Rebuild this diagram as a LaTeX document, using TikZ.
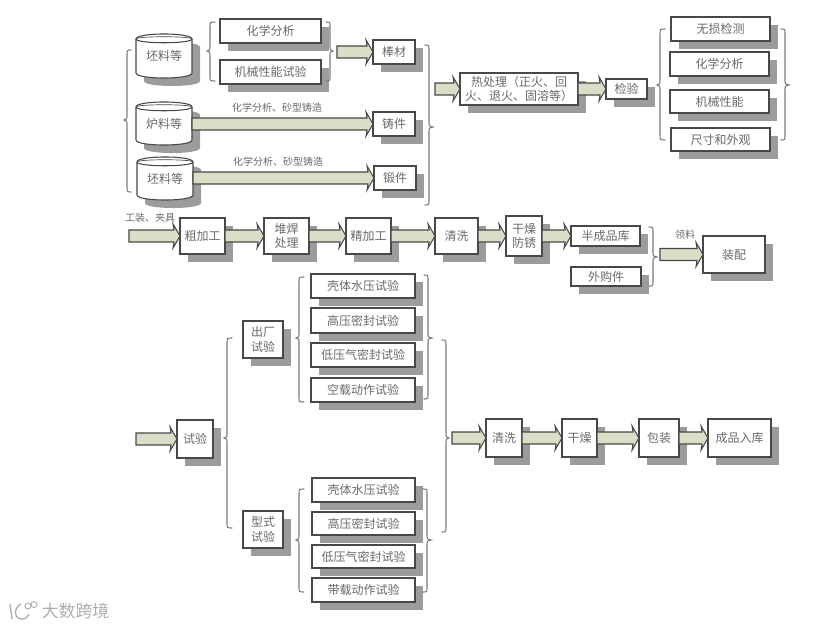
\documentclass[tikz,border=0pt]{standalone}
\usepackage{fontspec}
\usetikzlibrary{calc}
\newfontfamily\cjk{Noto Sans CJK SC}
\definecolor{shadowc}{HTML}{9C9C9C}
\definecolor{edgec}{HTML}{484848}
\definecolor{inkc}{HTML}{6A6A6A}
\definecolor{arrowc}{HTML}{D8DFC6}
\definecolor{bracec}{HTML}{7A7A7A}
\tikzset{
  boxnode/.style={draw=edgec,fill=white,line width=0.8pt,inner sep=0pt,outer sep=0pt,align=center,text=inkc,font=\cjk\fontsize{9}{11}\selectfont},
  tinylabel/.style={inner sep=0pt,text=inkc,font=\cjk\fontsize{7.5}{9}\selectfont},
  fatarrow/.style={draw=edgec,fill=arrowc,line width=0.8pt,line join=miter},
  bracepath/.style={draw=bracec,line width=0.8pt,line cap=round},
  cylpath/.style={draw=edgec,fill=white,line width=0.8pt},
  shadowfill/.style={fill=shadowc,draw=none}
}
\newcommand{\bx}[6]{%
  \fill[shadowfill] (#2+8,#3+8) rectangle (#4+8,#5+8);
  \pgfmathsetmacro{\wdv}{(#4-#2)*0.75}%
  \pgfmathsetmacro{\htv}{(#5-#3)*0.75}%
  \node[boxnode,minimum width=\wdv pt,minimum height=\htv pt] (#1) at ({(#2+#4)/2},{(#3+#5)/2}) {#6};
}
\newcommand{\cyl}[6]{%
  \fill[shadowfill] (#2+8,#3+13) .. controls (#2+8,#3+6.3) and (#4+8,#3+6.3) .. (#4+8,#3+13) -- (#4+8,#5+3) .. controls (#4+8,#5+9.7) and (#2+8,#5+9.7) .. (#2+8,#5+3) -- cycle;
  \path[cylpath] (#2,#3+5) .. controls (#2,#3-1.7) and (#4,#3-1.7) .. (#4,#3+5) -- (#4,#5-5) .. controls (#4,#5+1.7) and (#2,#5+1.7) .. (#2,#5-5) -- cycle;
  \draw[edgec,line width=0.8pt] (#2,#3+5) .. controls (#2,#3+10) and (#4,#3+10) .. (#4,#3+5);
  \draw[edgec,line width=0.5pt] (#2,#3+5) .. controls (#2,#3+2) and (#4,#3+2) .. (#4,#3+5);
  \pgfmathsetmacro{\wdv}{(#4-#2)*0.75}%
  \pgfmathsetmacro{\htv}{(#5-#3)*0.75}%
  \node[inner sep=0pt,outer sep=0pt,minimum width=\wdv pt,minimum height=\htv pt,text=inkc,font=\cjk\fontsize{9}{11}\selectfont] (#1) at ({(#2+#4)/2},{(#3+#5)/2}) {\raisebox{-5pt}{#6}};
}
\newcommand{\fatarr}[2]{%
  \path[fatarrow] let \p1=(#1), \p2=(#2) in
   (\x1,\y2+4.5pt) -- (\x2-4.5pt,\y2+4.5pt) -- (\x2-5.2pt,\y2+9pt) -- (\x2,\y2)
   -- (\x2-5.2pt,\y2-9pt) -- (\x2-4.5pt,\y2-4.5pt) -- (\x1,\y2-4.5pt) -- cycle;
}
% left brace: tip x, spine x, end x, y1, tip y, y2
\newcommand{\lbr}[6]{%
  \draw[bracepath] (#3,#4) .. controls (#2,#4) .. (#2,#4+5) -- (#2,#5-4) .. controls (#2,#5-1) .. (#1,#5) .. controls (#2,#5+1) .. (#2,#5+4) -- (#2,#6-5) .. controls (#2,#6) .. (#3,#6);
}
\begin{document}
\begin{tikzpicture}[x=0.75pt,y=-0.75pt]
\useasboundingbox[fill=white] (0,0) rectangle (831,627);

% --- top block
\cyl{c1}{136}{34}{192}{78}{坯料等}
\cyl{c2}{136}{102}{192}{145}{炉料等}
\cyl{c3}{137}{157}{193}{200}{坯料等}
\bx{hx1}{220}{19}{321}{43}{化学分析}
\bx{jx1}{220}{60}{321}{84}{机械性能试验}
\bx{bang}{373}{40}{415}{64}{棒材}
\bx{zhu}{373}{112}{415}{136}{铸件}
\bx{duan}{374}{166}{416}{190}{锻件}
\lbr{124}{127}{131}{50}{120}{192}
\lbr{207}{210}{215}{22}{51}{81}
\lbr{333}{330}{326}{22}{51}{81}
\lbr{433}{429}{425}{45}{127}{205}
\coordinate (s1) at (337,52);
\coordinate (s2) at (435,90);
\fatarr{s1}{bang.west}
\fatarr{c2.east}{zhu.west}
\fatarr{c3.east}{duan.west}
\node[tinylabel] (l1) at (277,108) {化学分析、砂型铸造};
\node[tinylabel] (l2) at (278,162) {化学分析、砂型铸造};

\bx{heat}{460}{73}{578}{105}{热处理（正火、回\\火、退火、固溶等）}
\bx{jy}{606}{79}{647}{99}{检验}
\bx{ws}{671}{17}{770}{41}{无损检测}
\bx{hx2}{670}{52}{769}{76}{化学分析}
\bx{jx2}{670}{90}{769}{113}{机械性能}
\bx{cc}{671}{128}{770}{151}{尺寸和外观}
\lbr{657}{660}{665}{29}{85}{140}
\lbr{789}{785}{781}{29}{85}{140}
\fatarr{s2}{heat.west}
\fatarr{heat.east}{jy.west}

% --- machining row
\bx{cjg}{180}{218}{225}{254}{粗加工}
\bx{dh}{264}{218}{309}{254}{堆焊\\处理}
\bx{jjg}{346}{218}{391}{254}{精加工}
\bx{qx1}{435}{218}{478}{254}{清洗}
\bx{gz1}{506}{216}{542}{256}{干燥\\防锈}
\bx{bcp}{571}{226}{640}{246}{半成品库}
\bx{wg}{571}{267}{641}{286}{外购件}
\bx{zp}{703}{236}{765}{273}{装配}
\lbr{657}{653}{649}{227}{257}{286}
\coordinate (s3) at (129,236);
\coordinate (s4) at (660,255);
\fatarr{s3}{cjg.west}
\fatarr{cjg.east}{dh.west}
\fatarr{dh.east}{jjg.west}
\fatarr{jjg.east}{qx1.west}
\fatarr{qx1.east}{gz1.west}
\fatarr{gz1.east}{bcp.west}
\fatarr{s4}{zp.west}
\node[tinylabel] (l3) at (150,218) {工装、夹具};
\node[tinylabel] (l4) at (685,235) {领料};

% --- test block
\bx{sy}{177}{420}{213}{458}{试验}
\bx{cc1}{243}{321}{283}{358}{出厂\\试验}
\bx{xs}{243}{511}{283}{548}{型式\\试验}
\bx{a1}{311}{274}{415}{298}{壳体水压试验}
\bx{a2}{311}{308}{415}{333}{高压密封试验}
\bx{a3}{311}{343}{415}{367}{低压气密封试验}
\bx{a4}{311}{378}{415}{402}{空载动作试验}
\bx{b1}{312}{478}{415}{502}{壳体水压试验}
\bx{b2}{312}{512}{415}{535}{高压密封试验}
\bx{b3}{312}{545}{415}{568}{低压气密封试验}
\bx{b4}{312}{578}{415}{602}{带载动作试验}
\lbr{224}{227}{232}{338}{438}{528}
\lbr{296}{299}{304}{277}{338}{402}
\lbr{432}{428}{424}{275}{338}{399}
\lbr{449}{446}{442}{340}{438}{532}
\lbr{296}{299}{304}{489}{540}{592}
\lbr{431}{427}{423}{489}{540}{592}
\bx{qx2}{486}{419}{522}{457}{清洗}
\bx{gz2}{562}{419}{597}{457}{干燥}
\bx{bz}{639}{419}{679}{457}{包装}
\bx{rk}{708}{419}{771}{457}{成品入库}
\coordinate (s5) at (136,438);
\coordinate (s6) at (452,438);
\fatarr{s5}{sy.west}
\fatarr{s6}{qx2.west}
\fatarr{qx2.east}{gz2.west}
\fatarr{gz2.east}{bz.west}
\fatarr{bz.east}{rk.west}

% --- watermark
\node[inner sep=0pt,text=black!32,font=\cjk\fontsize{12.6}{14}\selectfont] (wm) at (75.5,611) {大数跨境};
\draw[black!32,line width=1pt] (10,604) -- (12,619);
\draw[black!32,line width=1pt] (21,604) .. controls (13,608) and (14,619) .. (22,619) .. controls (26,619) and (28,617) .. (29,614);
\draw[black!32,line width=0.7pt] (28,606) circle[radius=3];
\draw[black!32,line width=0.7pt] (34,604.5) circle[radius=3];
\end{tikzpicture}
\end{document}
